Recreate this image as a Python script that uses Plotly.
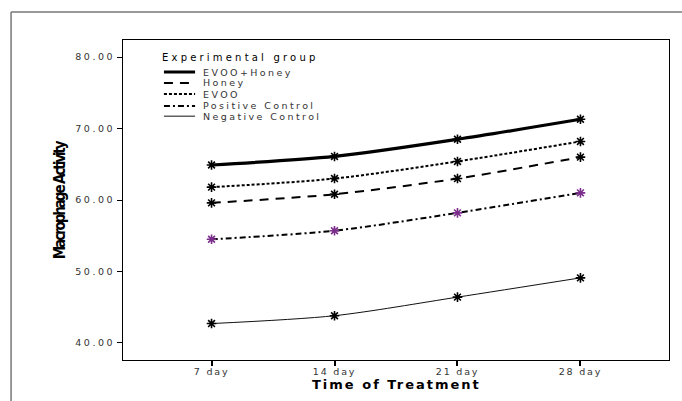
import plotly.graph_objects as go

days = ["7 day", "14 day", "21 day", "28 day"]
series_names = ["EVOO+Honey", "Honey", "EVOO", "Positive Control", "Negative Control"]
evoo_honey = [64.9, 66.1, 68.5, 71.3]
honey = [59.6, 60.8, 63.0, 66.0]
evoo = [61.8, 63.0, 65.4, 68.2]
positive_control = [54.5, 55.7, 58.2, 61.0]
negative_control = [42.7, 43.8, 46.4, 49.1]
y_ticks = [40, 50, 60, 70, 80]
y_ticklabels = ["40.00", "50.00", "60.00", "70.00", "80.00"]

values = [evoo_honey, honey, evoo, positive_control, negative_control]
styles = [
    dict(width=3.2, dash="solid", color="#000000", mcolor="#000000"),
    dict(width=2.0, dash="9px,7px", color="#000000", mcolor="#000000"),
    dict(width=2.0, dash="3px,2px", color="#000000", mcolor="#000000"),
    dict(width=2.0, dash="6px,3px,2px,3px", color="#000000", mcolor="#7B2D8B"),
    dict(width=1.0, dash="solid", color="#111111", mcolor="#000000"),
]

FONT = "DejaVu Sans, Verdana, sans-serif"


def spaced(t, ls=1.0):
    return f'<span style="letter-spacing:{ls}px">{t}</span>'


fig = go.Figure()
for name, vals, st in zip(series_names, values, styles):
    fig.add_trace(go.Scatter(
        x=days, y=vals, name=name, mode="lines+markers",
        line=dict(color=st["color"], width=st["width"], dash=st["dash"], shape="spline", smoothing=0.8),
        marker=dict(symbol="asterisk-open", size=8, color=st["mcolor"],
                    line=dict(color=st["mcolor"], width=1.6)),
        showlegend=False,
    ))

fig.update_layout(
    width=682, height=401,
    margin=dict(l=123, r=13, t=40, b=41),
    paper_bgcolor="white", plot_bgcolor="white",
    font=dict(family=FONT, size=10, color="#333333"),
    xaxis=dict(
        type="category", range=[-0.72, 3.72],
        showline=True, linecolor="#000000", linewidth=1.2, mirror=True,
        ticks="outside", ticklen=5, tickwidth=1.5, tickcolor="#000000",
        showgrid=False, zeroline=False, ticklabelstandoff=-3,
        tickvals=days, ticktext=[spaced(d, 1.8) for d in days],
        tickfont=dict(family=FONT, size=9.5, color="#333333"),
    ),
    yaxis=dict(
        range=[37.6, 82.4],
        showline=True, linecolor="#000000", linewidth=1.2, mirror=True,
        ticks="outside", ticklen=5, tickwidth=1.2, tickcolor="#000000",
        showgrid=False, zeroline=False,
        tickvals=y_ticks, ticktext=[spaced(t, 2.5) for t in y_ticklabels],
        tickfont=dict(family=FONT, size=9.5, color="#333333"),
    ),
)

# outer frame (gray)
fig.add_shape(type="line", xref="paper", yref="paper", x0=-0.205, x1=1.03, y0=1.0875, y1=1.0875,
              line=dict(color="#777777", width=1.5))
fig.add_shape(type="line", xref="paper", yref="paper", x0=-0.205, x1=-0.205, y0=1.0875, y1=-0.14,
              line=dict(color="#777777", width=1.5))

# axis titles
fig.add_annotation(text="<b>" + spaced("Macrophage Activity", -2.1) + "</b>", xref="paper", yref="paper",
                   x=-0.115, y=0.5, textangle=-90, showarrow=False,
                   xanchor="center", yanchor="middle",
                   font=dict(family="Liberation Sans Narrow, DejaVu Sans Condensed, Arial Narrow, sans-serif",
                             size=15, color="#000000"))
fig.add_annotation(text="<b>" + spaced("Time of Treatment", 2.0) + "</b>", xref="paper", yref="paper",
                   x=0.5, y=-0.075, showarrow=False, xanchor="center", yanchor="middle",
                   font=dict(family=FONT, size=13, color="#000000"))

# legend (manual)
fig.add_annotation(text=spaced("Experimental group", 3.2), xref="paper", yref="paper",
                   x=0.068, y=0.944, showarrow=False, xanchor="left", yanchor="middle",
                   font=dict(family=FONT, size=10, color="#000000"))
leg_y = [0.900, 0.866, 0.831, 0.794, 0.762]
for name, st, yy in zip(series_names, styles, leg_y):
    fig.add_shape(type="line", xref="paper", yref="paper", x0=0.075, x1=0.132, y0=yy, y1=yy,
                  line=dict(color=st["color"], width=st["width"], dash=st["dash"]))
    fig.add_annotation(text=spaced(name, 2.4), xref="paper", yref="paper",
                       x=0.143, y=yy, showarrow=False, xanchor="left", yanchor="middle",
                       font=dict(family=FONT, size=9.5, color="#333333"))

fig.write_html("out.html", config={"displayModeBar": False},
               post_script="document.body.style.margin='0';document.body.style.overflow='hidden';")
